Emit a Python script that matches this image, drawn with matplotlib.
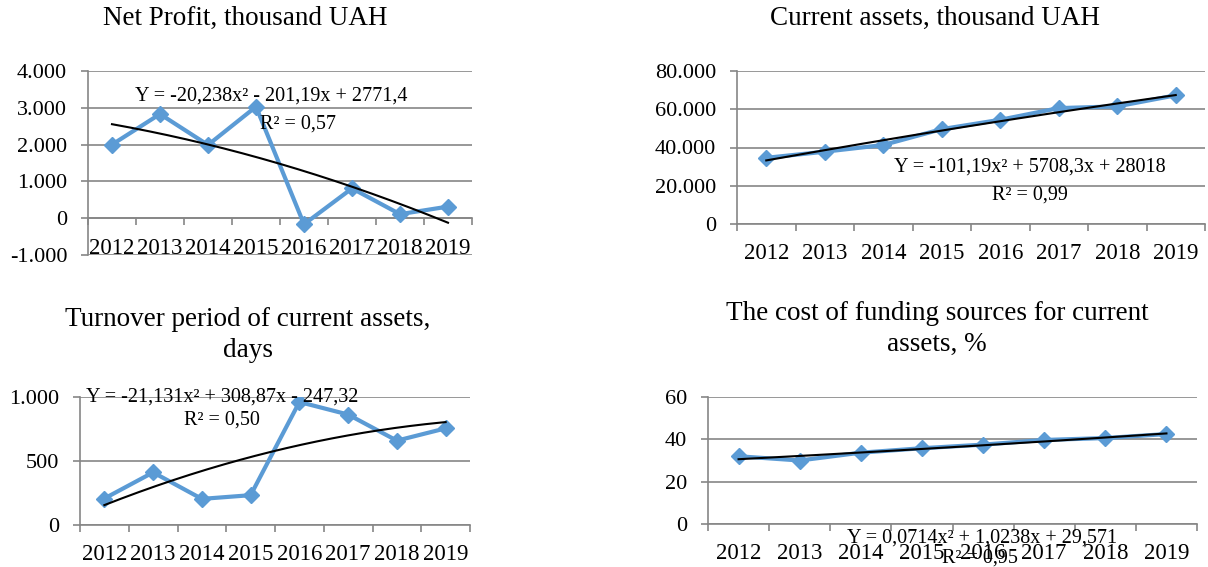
import numpy as np
import matplotlib
matplotlib.use("Agg")
import matplotlib.pyplot as plt
from matplotlib.ticker import FuncFormatter, FixedLocator

plt.rcParams['font.family'] = ['Liberation Serif', 'DejaVu Serif']

years = ['2012', '2013', '2014', '2015', '2016', '2017', '2018', '2019']

net_profit = [2000, 2830, 1990, 3030, -165, 810, 110, 315]
current_assets = [34600, 37800, 41300, 49600, 54500, 60600, 61500, 67300]
turnover_days = [207, 411, 204, 233, 961, 863, 659, 755]
funding_cost = [32.0, 30.0, 33.7, 35.8, 37.5, 39.7, 40.6, 42.5]

titles = ['Net Profit, thousand UAH',
          'Current assets, thousand UAH',
          'Turnover period of current assets,\ndays',
          'The cost of funding sources for current\nassets, %']
equations = ['Y = -20,238x² - 201,19x + 2771,4',
             'Y = -101,19x² + 5708,3x + 28018',
             'Y = -21,131x² + 308,87x - 247,32',
             'Y = 0,0714x² + 1,0238x + 29,571']
r2_labels = ['R² = 0,57', 'R² = 0,99', 'R² = 0,50', 'R² = 0,95']
y_limits = [(-1000, 4000), (0, 80000), (0, 1000), (0, 60)]
y_steps = [1000, 20000, 500, 20]

W, H = 1208, 567
fig = plt.figure(figsize=(W / 100, H / 100), dpi=100)

def px_box(x0, x1, ytop, ybot):
    return [x0 / W, 1 - ybot / H, (x1 - x0) / W, (ybot - ytop) / H]

boxes = [px_box(88, 472, 71, 255), px_box(737, 1205, 71, 224),
         px_box(80, 470, 397, 525), px_box(708, 1197, 397, 524)]
# title centre (x, y) in pixels
title_pos = [(245, 18), (935, 18), (248, 335), (937, 329)]
# equation and R² positions (centre x, centre y) in pixels
eq_pos = [(271, 96), (1030, 167), (222, 397), (982, 538)]
r2_pos = [(298, 124), (1030, 195), (222, 420), (980, 558)]

grid_col = '#868686'
blue = '#5B9BD5'

series = [net_profit, current_assets, turnover_days, funding_cost]
x = np.arange(1, len(years) + 1)

def thousands(v, pos):
    return f"{v:,.0f}".replace(",", ".")

for i, data in enumerate(series):
    ax = fig.add_axes(boxes[i])
    ax.plot(x, data, color=blue, lw=3, marker='D', ms=8, zorder=3)
    coef = np.polyfit(x, data, 2)
    xs = np.linspace(1, 8, 200)
    ax.plot(xs, np.polyval(coef, xs), color='black', lw=1.5, zorder=4)

    lo, hi = y_limits[i]
    ax.set_ylim(lo, hi)
    ax.set_xlim(0.5, 8.5)
    ax.set_yticks(np.arange(lo, hi + 1, y_steps[i]))
    ax.yaxis.set_major_formatter(FuncFormatter(thousands))
    ax.grid(axis='y', color=grid_col, lw=1.2)
    ax.set_axisbelow(True)

    ax.set_xticks(x)
    ax.set_xticklabels(years)
    ax.xaxis.set_minor_locator(FixedLocator(np.arange(0.5, 9, 1)))
    ax.tick_params(axis='x', which='major', length=0, labelsize=16.5, pad=14)
    ax.tick_params(axis='x', which='minor', length=5, color=grid_col, width=1.2)
    ax.tick_params(axis='y', length=5, color=grid_col, width=1.2, labelsize=16, pad=10)

    for s in ['top', 'right']:
        ax.spines[s].set_visible(False)
    for s in ['left', 'bottom']:
        ax.spines[s].set_color(grid_col)
        ax.spines[s].set_linewidth(1.2)
    if lo < 0:
        ax.spines['bottom'].set_position(('data', 0))

    fig.text(title_pos[i][0] / W, 1 - title_pos[i][1] / H, titles[i],
             ha='center', va='center', fontsize=19.5, linespacing=1.3)
    fig.text(eq_pos[i][0] / W, 1 - eq_pos[i][1] / H, equations[i],
             ha='center', va='center', fontsize=14.5, zorder=5)
    fig.text(r2_pos[i][0] / W, 1 - r2_pos[i][1] / H, r2_labels[i],
             ha='center', va='center', fontsize=14.5, zorder=5)

fig.savefig('out.png', dpi=100)
